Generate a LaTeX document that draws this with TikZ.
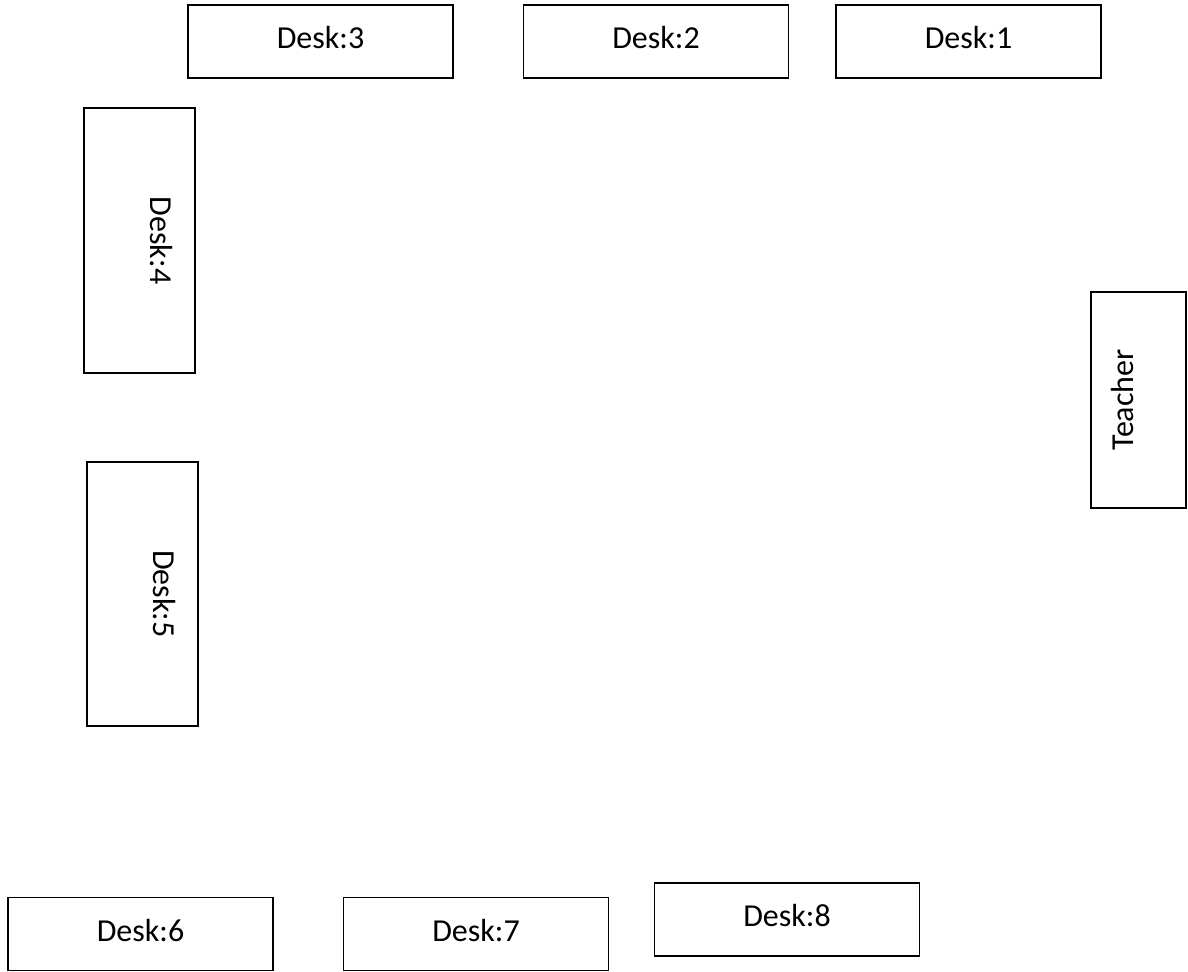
\documentclass[tikz,border=0pt]{standalone}
\usepackage{fontspec}
\setmainfont{Carlito}
\begin{document}
\begin{tikzpicture}[x=0.5pt,y=-0.5pt,
	desk/.style={draw,line width=0.9pt,inner sep=0pt,font=\fontsize{16}{19}\selectfont},
	longdesk/.style={desk,minimum width=132.5pt,text height=21.9pt,text depth=14.6pt},
	sidedesk/.style={desk,rotate=-90,minimum width=132.5pt,text height=22.4pt,text depth=33.1pt},
	teacherdesk/.style={desk,rotate=90,minimum width=108pt,text height=21.15pt,text depth=26.35pt}]
	\useasboundingbox (0,0) rectangle (1188,971);
	\node[longdesk] (desk3) at (320.5,41.5) {Desk:3};
	\node[longdesk] (desk2) at (656,41.5) {Desk:2};
	\node[longdesk] (desk1) at (968.5,41.5) {Desk:1};
	\node[sidedesk] (desk4) at (139.5,240.5) {Desk:4};
	\node[sidedesk,minimum width=132pt] (desk5) at (142.5,594) {Desk:5};
	\node[teacherdesk] (teacher) at (1138.5,400) {Teacher};
	\node[longdesk] (desk6) at (140.5,934) {Desk:6};
	\node[longdesk] (desk7) at (476,934) {Desk:7};
	\node[longdesk] (desk8) at (787,919.5) {Desk:8};
\end{tikzpicture}
\end{document}
